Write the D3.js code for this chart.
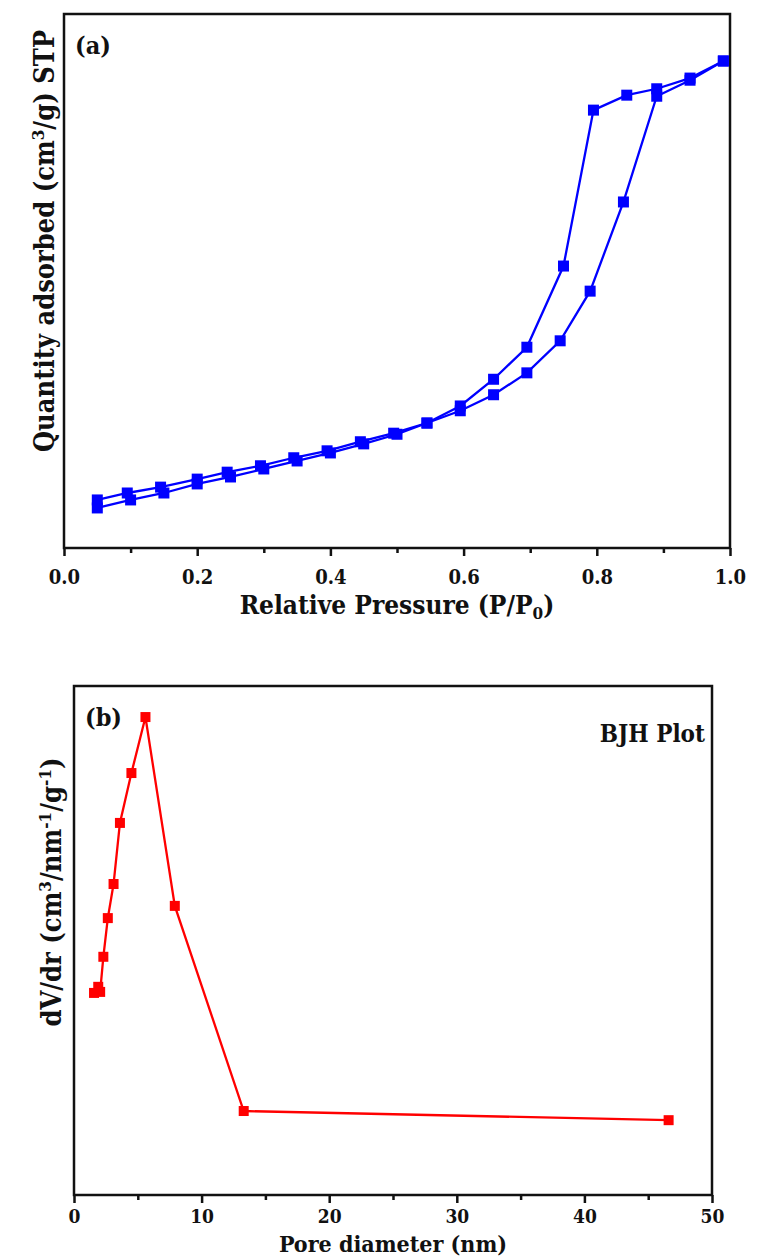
<!DOCTYPE html>
<html>
<head>
<meta charset="utf-8">
<script src="https://cdn.jsdelivr.net/npm/d3@7"></script>
<style>
  body { margin: 0; background: #fff; }
  svg text { font-family: "DejaVu Serif", serif; font-weight: bold; font-stretch: condensed; fill: #111; }
</style>
</head>
<body>
<svg id="chart"></svg>
<script>
const width = 774;
const height = 1257;

// panel (a) — N2 isotherm
const adsP = [0.05, 0.10, 0.15, 0.20, 0.25, 0.30, 0.35, 0.40, 0.45, 0.50, 0.545, 0.595, 0.645, 0.695, 0.745, 0.79, 0.84, 0.89, 0.94, 0.99];
const adsQ = [7.5, 9.0, 10.3, 12.0, 13.3, 14.8, 16.3, 17.8, 19.5, 21.3, 23.4, 25.7, 28.7, 32.8, 38.8, 48.1, 64.8, 84.6, 87.6, 91.2];
const desP = [0.99, 0.94, 0.89, 0.845, 0.795, 0.75, 0.695, 0.645, 0.595, 0.545, 0.495, 0.445, 0.395, 0.345, 0.295, 0.245, 0.20, 0.145, 0.095, 0.05];
const desQ = [91.2, 88.0, 86.0, 84.8, 82.0, 52.8, 37.6, 31.6, 26.6, 23.4, 21.5, 19.9, 18.2, 16.9, 15.4, 14.2, 12.9, 11.4, 10.3, 9.0];
const pTicks = [0, 0.2, 0.4, 0.6, 0.8, 1.0];

// panel (b) — BJH pore size distribution
const poreD = [1.57, 1.9, 2.05, 2.3, 2.65, 3.1, 3.6, 4.5, 5.6, 7.9, 13.3, 46.6];
const dVdr = [39.7, 40.9, 39.9, 46.8, 54.4, 61.1, 73.1, 82.9, 93.9, 56.8, 16.5, 14.7];
const dTicks = [0, 10, 20, 30, 40, 50];

const svg = d3.select('#chart')
  .attr('width', width)
  .attr('height', height);

function panel(opts) {
  const g = svg.append('g');
  const x = d3.scaleLinear().domain(opts.xDomain).range([opts.left, opts.right]);
  const y = d3.scaleLinear().domain([0, 100]).range([opts.bottom, opts.top]);

  // minor ticks
  g.append('g')
    .attr('transform', `translate(0,${opts.bottom})`)
    .call(d3.axisBottom(x).tickValues(opts.minor).tickSize(5).tickFormat(''))
    .call(a => a.select('.domain').remove())
    .call(a => a.selectAll('line').attr('stroke-width', 2.5).attr('stroke', '#111'));

  const ax = g.append('g')
    .attr('transform', `translate(0,${opts.bottom})`)
    .call(d3.axisBottom(x).tickValues(opts.ticks).tickSize(8).tickSizeOuter(0).tickPadding(opts.pad).tickFormat(opts.fmt));
  ax.attr('font-size', null).attr('font-family', null);
  ax.select('.domain').remove();
  ax.selectAll('line').attr('stroke-width', 2.5).attr('stroke', '#111');
  ax.selectAll('text').style('font-size', opts.tickSize + 'px').attr('fill', null);

  // frame
  g.append('rect')
    .attr('x', opts.left)
    .attr('y', opts.top)
    .attr('width', opts.right - opts.left)
    .attr('height', opts.bottom - opts.top)
    .attr('fill', 'none')
    .attr('stroke', '#111')
    .attr('stroke-width', 2.5);

  const line = d3.line().x(d => x(d[0])).y(d => y(d[1]));
  opts.series.forEach(s => {
    const pts = s.xs.map((v, i) => [v, s.ys[i]]);
    g.append('path')
      .datum(pts)
      .attr('d', line)
      .attr('fill', 'none')
      .attr('stroke', opts.color)
      .attr('stroke-width', 2.3);
    g.selectAll(null)
      .data(pts)
      .enter()
      .append('rect')
      .attr('x', d => x(d[0]) - opts.ms / 2)
      .attr('y', d => y(d[1]) - opts.ms / 2)
      .attr('width', opts.ms)
      .attr('height', opts.ms)
      .attr('fill', opts.color);
  });

  g.append('text')
    .attr('x', (opts.left + opts.right) / 2)
    .attr('y', opts.xTitleY)
    .attr('text-anchor', 'middle')
    .attr('font-size', opts.xTitleSize)
    .html(opts.xTitle);

  g.append('text')
    .attr('transform', `translate(${opts.yTitleX},${opts.yTitleY}) rotate(-90)`)
    .attr('text-anchor', 'middle')
    .attr('font-size', 27)
    .html(opts.yTitle);

  g.append('text')
    .attr('x', opts.left + 11)
    .attr('y', opts.top + 40)
    .attr('font-size', 25)
    .text(opts.tag);

  return g;
}

panel({
  left: 64, right: 730, top: 14, bottom: 548,
  xDomain: [0, 1], ticks: pTicks, minor: [0.1, 0.3, 0.5, 0.7, 0.9],
  fmt: d3.format('.1f'), pad: 14, tickSize: 20,
  color: '#0000ff', ms: 11,
  series: [{ xs: adsP, ys: adsQ }, { xs: desP, ys: desQ }],
  xTitle: 'Relative Pressure (P/P<tspan font-size="17" dy="5">0</tspan><tspan dy="-5">)</tspan>',
  xTitleY: 614, xTitleSize: 26,
  yTitle: 'Quantity adsorbed (cm<tspan font-size="17" dy="-10">3</tspan><tspan dy="10">/g) STP</tspan>',
  yTitleX: 54, yTitleY: 241,
  tag: '(a)'
});

const b = panel({
  left: 74, right: 712, top: 686, bottom: 1195,
  xDomain: [0, 50], ticks: dTicks, minor: [5, 15, 25, 35, 45],
  fmt: d3.format('d'), pad: 7, tickSize: 19,
  color: '#ff0000', ms: 10,
  series: [{ xs: poreD, ys: dVdr }],
  xTitle: 'Pore diameter (nm)',
  xTitleY: 1252, xTitleSize: 23,
  yTitle: 'dV/dr (cm<tspan font-size="17" dy="-10">3</tspan><tspan dy="10">/nm</tspan><tspan font-size="17" dy="-10">-1</tspan><tspan dy="10">/g</tspan><tspan font-size="17" dy="-10">-1</tspan><tspan dy="10">)</tspan>',
  yTitleX: 61, yTitleY: 892,
  tag: '(b)'
});

b.append('text')
  .attr('x', 705)
  .attr('y', 742)
  .attr('text-anchor', 'end')
  .attr('font-size', 24)
  .text('BJH Plot');
</script>
</body>
</html>
